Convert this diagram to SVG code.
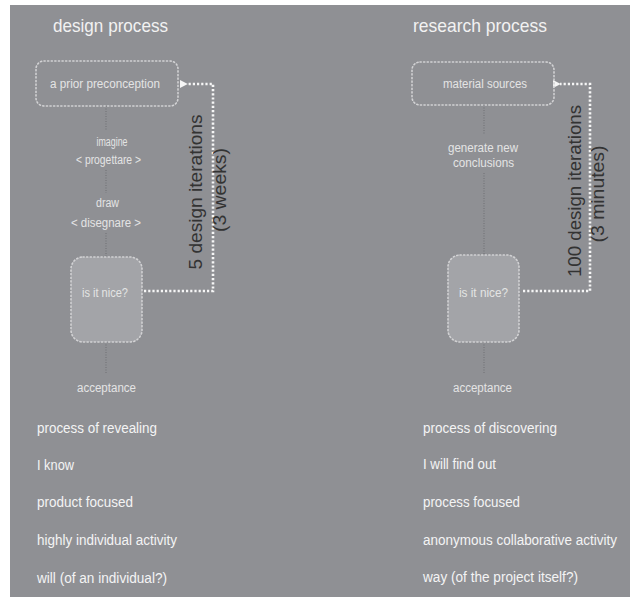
<svg xmlns="http://www.w3.org/2000/svg" width="630" height="599" viewBox="0 0 630 599">
<defs>
<style>
text{font-family:"Liberation Sans",Arial,sans-serif;}
.title{font-size:19px;fill:#f2f2f2;}
.lbl{font-size:12.5px;fill:#e4e4e4;text-anchor:middle;}
.list{font-size:14px;fill:#f4f4f4;}
.rot{font-size:18px;fill:#333;text-anchor:middle;}
.box{fill:none;stroke:#d2d2d4;stroke-width:1.6;stroke-dasharray:1.2 2.4;stroke-linecap:round;}
.q{fill:#a3a4a8;stroke:#d2d2d4;stroke-width:1.6;stroke-dasharray:1.2 2.4;stroke-linecap:round;}
.conn{stroke:#6e6f73;stroke-width:1;stroke-dasharray:1 1.5;fill:none;}
.loop{stroke:#f6f6f6;stroke-width:2.6;stroke-dasharray:2.2 2;fill:none;}
</style>
<marker id="ah" viewBox="0 0 10 10" refX="1" refY="5" markerWidth="3" markerHeight="3" orient="auto-start-reverse" markerUnits="strokeWidth">
<path d="M0,5 L10,0 L10,10 Z" fill="#f6f6f6"/>
</marker>
</defs>
<rect x="0" y="0" width="630" height="599" fill="#ffffff"/>
<rect x="10" y="5" width="620" height="592" fill="#8f9094"/>

<g id="connectors">
<path class="conn" d="M106,106 V130 M106,170 V193 M106,233 V257 M106,342 V373"/>
<path class="conn" d="M484,105 V135 M484,173 V255 M484,342 V373"/>
<path class="loop" d="M144,291 H213 V84 H187" marker-end="url(#ah)"/>
<path class="loop" d="M523,291 H590 V84 H560" marker-end="url(#ah)"/>
</g>

<g id="design-title"><text class="title" x="53" y="32" textLength="115" lengthAdjust="spacingAndGlyphs">design process</text></g>
<g id="research-title"><text class="title" x="413" y="32" textLength="134" lengthAdjust="spacingAndGlyphs">research process</text></g>

<g id="preconception">
<rect class="box" x="36" y="61" width="142" height="45" rx="8"/>
<text class="lbl" x="105" y="88" textLength="110" lengthAdjust="spacingAndGlyphs">a prior preconception</text>
</g>
<g id="imagine">
<text class="lbl" x="112" y="146" textLength="31" lengthAdjust="spacingAndGlyphs">imagine</text>
<text class="lbl" x="108.5" y="164" textLength="65" lengthAdjust="spacingAndGlyphs">&lt; progettare &gt;</text>
</g>
<g id="draw">
<text class="lbl" x="107.5" y="207" textLength="23" lengthAdjust="spacingAndGlyphs">draw</text>
<text class="lbl" x="106" y="227" textLength="70" lengthAdjust="spacingAndGlyphs">&lt; disegnare &gt;</text>
</g>
<g id="nice-left">
<rect class="q" x="71" y="257" width="71" height="85" rx="12"/>
<text class="lbl" x="105" y="297" textLength="46" lengthAdjust="spacingAndGlyphs">is it nice?</text>
</g>
<g id="acceptance-left"><text class="lbl" x="106.5" y="392" textLength="59" lengthAdjust="spacingAndGlyphs">acceptance</text></g>
<g id="iter-left">
<text class="rot" transform="translate(202,192) rotate(-90)" textLength="155" lengthAdjust="spacingAndGlyphs">5 design iterations</text>
<text class="rot" transform="translate(226,190) rotate(-90)" textLength="84" lengthAdjust="spacingAndGlyphs">(3 weeks)</text>
</g>

<g id="material">
<rect class="box" x="412" y="62" width="142" height="43" rx="8"/>
<text class="lbl" x="485" y="88" textLength="84" lengthAdjust="spacingAndGlyphs">material sources</text>
</g>
<g id="generate">
<text class="lbl" x="483" y="152" textLength="70" lengthAdjust="spacingAndGlyphs">generate new</text>
<text class="lbl" x="483.5" y="167" textLength="61" lengthAdjust="spacingAndGlyphs">conclusions</text>
</g>
<g id="nice-right">
<rect class="q" x="448" y="255" width="71" height="87" rx="12"/>
<text class="lbl" x="483.5" y="297" textLength="49" lengthAdjust="spacingAndGlyphs">is it nice?</text>
</g>
<g id="acceptance-right"><text class="lbl" x="482.5" y="392" textLength="59" lengthAdjust="spacingAndGlyphs">acceptance</text></g>
<g id="iter-right">
<text class="rot" transform="translate(581,191) rotate(-90)" textLength="172" lengthAdjust="spacingAndGlyphs">100 design iterations</text>
<text class="rot" transform="translate(604,194) rotate(-90)" textLength="97" lengthAdjust="spacingAndGlyphs">(3 minutes)</text>
</g>

<g id="list-left">
<text class="list" x="37" y="433" textLength="120" lengthAdjust="spacingAndGlyphs">process of revealing</text>
<text class="list" x="37" y="470" textLength="37" lengthAdjust="spacingAndGlyphs">I know</text>
<text class="list" x="37" y="507" textLength="96" lengthAdjust="spacingAndGlyphs">product focused</text>
<text class="list" x="37" y="545" textLength="140" lengthAdjust="spacingAndGlyphs">highly individual activity</text>
<text class="list" x="37" y="583" textLength="130" lengthAdjust="spacingAndGlyphs">will (of an individual?)</text>
</g>
<g id="list-right">
<text class="list" x="423" y="433" textLength="134" lengthAdjust="spacingAndGlyphs">process of discovering</text>
<text class="list" x="423" y="469" textLength="73" lengthAdjust="spacingAndGlyphs">I will find out</text>
<text class="list" x="423" y="507" textLength="97" lengthAdjust="spacingAndGlyphs">process focused</text>
<text class="list" x="423" y="545" textLength="194" lengthAdjust="spacingAndGlyphs">anonymous collaborative activity</text>
<text class="list" x="423" y="582" textLength="155" lengthAdjust="spacingAndGlyphs">way (of the project itself?)</text>
</g>
</svg>
